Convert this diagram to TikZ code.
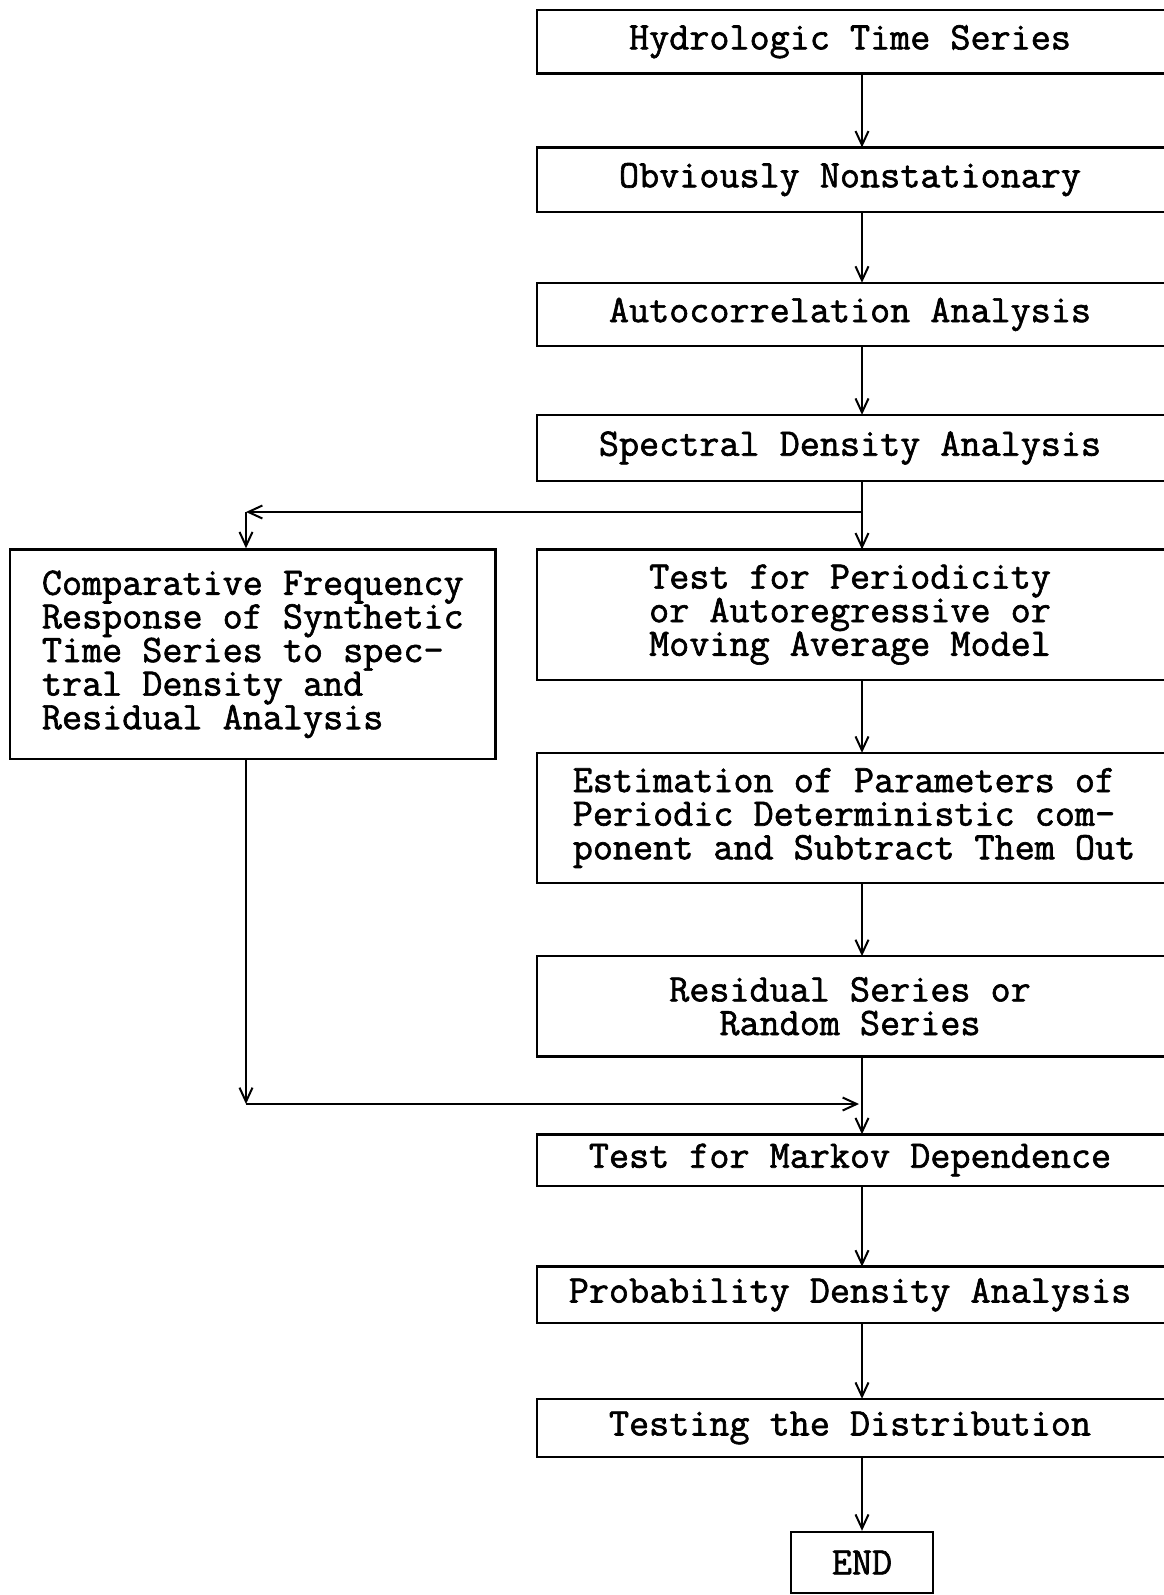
\documentclass[tikz,border=0pt]{standalone}
\usepackage{fontspec}
\newfontfamily\tw{Latin Modern Mono}[FakeBold=1.6]
\usetikzlibrary{arrows.meta}
\begin{document}
\begin{tikzpicture}[x=1pt,y=-1pt,
  txt/.style={font=\fontsize{39}{33.6}\selectfont\tw, inner sep=0pt, align=center},
  rbox/.style={txt, minimum width=625.6, minimum height=#1},
  boxline/.style={line width=2.4pt},
  arr/.style={line width=2pt, -{Straight Barb[length=14pt,width=13pt,line width=2pt]}}]
\useasboundingbox (0,0) rectangle (1163,1595);
\fill[white] (0,0) rectangle (1163,1595);

% right column (right edges run off the page)
\node[rbox=63]  (h) at (850,41.7)   {Hydrologic Time Series};
\node[rbox=64]  (o) at (850,179.6)  {Obviously Nonstationary};
\node[rbox=63]  (a) at (850,314.4)  {Autocorrelation Analysis};
\node[rbox=66]  (s) at (850,448)    {Spectral Density Analysis};
\node[rbox=130] (t) at (850,614.6)  {Test for Periodicity\\or Autoregressive or\\Moving Average Model};
\node[txt, align=left, minimum width=633.6, minimum height=130] (e) at (854,818)
  {Estimation of Parameters of\\Periodic Deterministic com-\\ponent and Subtract Them Out};
\node[rbox=100] (r) at (850,1006.3) {Residual Series or\\Random Series};
\node[rbox=51]  (m) at (850,1160)   {Test for Markov Dependence};
\node[rbox=56]  (p) at (850,1294.8) {Probability Density Analysis};
\node[rbox=58]  (d) at (850,1428)   {Testing the Distribution};
\node[txt, draw, boxline, minimum width=142.5, minimum height=61] (end) at (862,1562.5) {END};

\foreach \n in {h,o,a,s,t,e,r,m,p,d}
  \draw[boxline] (\n.south west) rectangle ([xshift=80]\n.north east);

% left box
\node[txt, draw, boxline, align=left, minimum width=485.5, minimum height=209.6]
  (c) at (252.8,654.3)
  {Comparative Frequency\\Response of Synthetic\\Time Series to spec-\\tral Density and\\Residual Analysis};

% connectors
\draw[arr] ([xshift=12]h.south) -- ([xshift=12]o.north);
\draw[arr] ([xshift=12]o.south) -- ([xshift=12]a.north);
\draw[arr] ([xshift=12]a.south) -- ([xshift=12]s.north);
\draw[arr] ([xshift=12]s.south) -- ([xshift=12]t.north);
\draw[arr] ([xshift=12]t.south) -- ([xshift=8]e.north);
\draw[arr] ([xshift=8]e.south) -- ([xshift=12]r.north);
\draw[arr] ([xshift=12]r.south) -- ([xshift=12]m.north);
\draw[arr] ([xshift=12]m.south) -- ([xshift=12]p.north);
\draw[arr] ([xshift=12]p.south) -- ([xshift=12]d.north);
\draw[arr] ([xshift=12]d.south) -- (end.north);

\coordinate (j1) at (862,512);
\coordinate (c1) at (246,512);
\coordinate (c2) at (246,1104);
\coordinate (j2) at (859,1104);
\draw[arr] (j1) -- (c1);
\draw[arr] (c1) -- (c1 |- c.north);
\draw[arr] (c2 |- c.south) -- (c2);
\draw[arr] (c2) -- (j2);
\end{tikzpicture}
\end{document}
